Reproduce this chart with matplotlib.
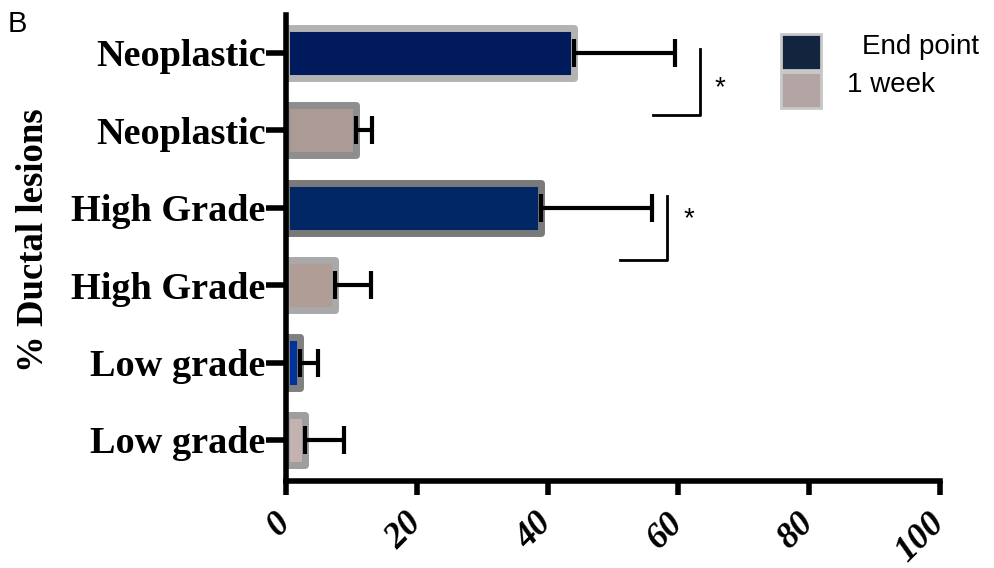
import matplotlib
matplotlib.use("Agg")
import matplotlib.pyplot as plt
from matplotlib.patches import Rectangle

# data, bottom to top
labels = ["Low grade", "Low grade", "High Grade", "High Grade", "Neoplastic", "Neoplastic"]
values = [2.9, 2.2, 7.5, 39.0, 10.7, 44.0]
errors = [6.0, 2.7, 5.5, 17.0, 2.4, 15.5]
fills = ["#c4b2b1", "#003399", "#b09e96", "#022765", "#ab9a96", "#001a5c"]
edges = ["#9e9e9e", "#808080", "#a9a9a9", "#7a7a7a", "#8e8e8e", "#b3b3b3"]
xticks = [0, 20, 40, 60, 80, 100]
legend_names = ["End point", "1 week"]
legend_fills = ["#13243f", "#b3a5a4"]

serif = "Liberation Serif"

fig = plt.figure(figsize=(9.94, 5.68), dpi=100)
ax = fig.add_axes([0.2877, 0.1532, 0.6580, 0.8204])

ypos = list(range(len(values)))
ax.barh(ypos, values, height=0.65, color=fills, edgecolor=edges,
        linewidth=5, joinstyle="round", zorder=2)
ax.errorbar(values, ypos, xerr=[[0] * len(errors), errors], fmt="none",
            ecolor="black", elinewidth=3, capsize=10, capthick=3, zorder=3)

ax.set_xlim(0, 100)
ax.set_ylim(-0.53, 5.49)
ax.set_xticks(xticks)
ax.set_xticklabels([str(t) for t in xticks], rotation=45, ha="right", va="center",
                   rotation_mode="anchor", fontfamily=serif,
                   fontweight="bold", fontstyle="italic", fontsize=26)
ax.set_yticks(ypos)
ax.set_yticklabels(labels, fontfamily=serif, fontweight="bold", fontsize=27.5)
ax.tick_params(axis="x", length=10, width=4, color="black", pad=17)
ax.tick_params(axis="y", length=14.5, width=4, color="black", pad=0)
for s in ["top", "right"]:
    ax.spines[s].set_visible(False)
for s in ["left", "bottom"]:
    ax.spines[s].set_linewidth(4)
ax.set_ylabel("% Ductal lesions", fontfamily=serif, fontweight="bold", fontsize=26.5)
ax.yaxis.set_label_coords(-0.360, 0.517)

# significance brackets
ax.plot([56.1, 63.3, 63.3], [4.2, 4.2, 5.05], color="black", lw=2, clip_on=False)
ax.text(66.4, 4.55, "*", fontsize=20, ha="center", va="center", family="Liberation Sans")
ax.plot([51.1, 58.3, 58.3], [2.32, 2.32, 3.15], color="black", lw=2, clip_on=False)
ax.text(61.6, 2.85, "*", fontsize=20, ha="center", va="center", family="Liberation Sans")

# legend drawn by hand
for i, col in enumerate(legend_fills):
    fig.patches.append(Rectangle((781 / 994, (568 - 70 - i * 38) / 568), 40 / 994, 36 / 568,
                                 transform=fig.transFigure, facecolor=col,
                                 edgecolor="#c8c8c8", linewidth=2, figure=fig))
fig.text(862 / 994, (568 - 47) / 568, legend_names[0], fontsize=20, va="center",
         family="Liberation Sans")
fig.text(847 / 994, (568 - 85) / 568, legend_names[1], fontsize=20, va="center",
         family="Liberation Sans")

fig.text(8 / 994, (568 - 24) / 568, "B", fontsize=21, va="center",
         family="Liberation Sans")

fig.savefig("out.png", dpi=100)
